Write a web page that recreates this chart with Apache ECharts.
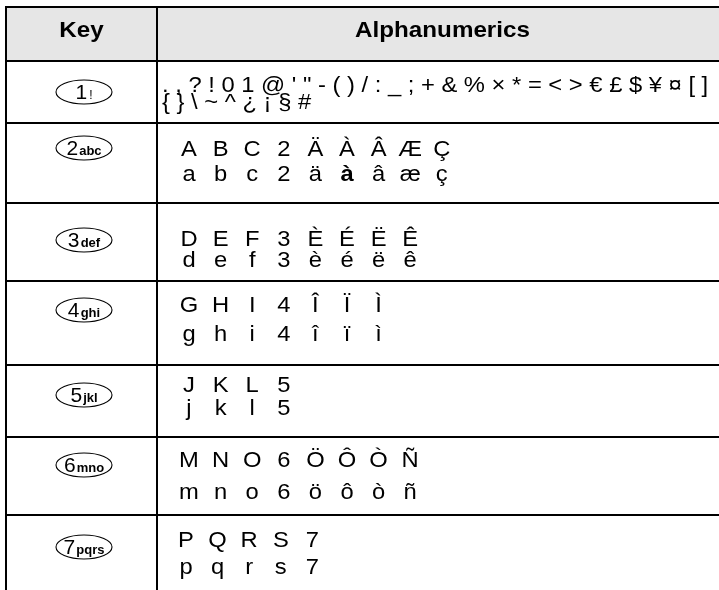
<!DOCTYPE html>
<html><head><meta charset="utf-8">
<script src="https://cdn.jsdelivr.net/npm/echarts@6/dist/echarts.min.js"></script>
<style>html,body{margin:0;padding:0;background:#fff}#c{width:719px;height:590px}</style>
</head><body><div id="c"></div>
<script>
// ---- data ----
const headers = ['Key', 'Alphanumerics'];
const keyDigits = ['1', '2', '3', '4', '5', '6', '7'];
const keyLetters = ['!', 'abc', 'def', 'ghi', 'jkl', 'mno', 'pqrs'];
const symbolLines = [
  ". , ? ! 0 1 @ ' \" - ( ) / : _ ; + & % × * = < > € £ $ ¥ ¤ [ ]",
  "{ } \\ ~ ^ ¿ ¡ § #"
];
const upperChars = [
  ['A','B','C','2','Ä','À','Â','Æ','Ç'],
  ['D','E','F','3','È','É','Ë','Ê'],
  ['G','H','I','4','Î','Ï','Ì'],
  ['J','K','L','5'],
  ['M','N','O','6','Ö','Ô','Ò','Ñ'],
  ['P','Q','R','S','7']
];
const lowerChars = [
  ['a','b','c','2','ä','à','â','æ','ç'],
  ['d','e','f','3','è','é','ë','ê'],
  ['g','h','i','4','î','ï','ì'],
  ['j','k','l','5'],
  ['m','n','o','6','ö','ô','ò','ñ'],
  ['p','q','r','s','7']
];
const boldChars = ['à'];

// ---- layout (page units, mapped through the axes) ----
const L = {
  left: 6, divider: 157, right: 728,
  rowTops: [7, 61, 123, 203, 281, 365, 437, 515, 610],
  keyCenterX: 84, textX1: 162,
  charX0: [0, 0, 189, 189, 189, 189, 189, 186],
  pitch: 31.6,
  ellipseY: [0, 92, 148, 240, 310, 395, 465, 547],
  base1: [38, 93, 157, 247, 313, 393, 468, 548],
  base2: [0, 110, 182, 268, 342, 416, 500, 575],
  ellW: 56, ellH: 24, lw: 2, fs: 22, sx: 1.08, hfs: 22, hsx: 1.1
};
const FONT = "'Liberation Sans', Arial, Helvetica, sans-serif";
const NARROW = "'Liberation Sans Narrow', 'Liberation Sans', Arial, sans-serif";

function txt(api, x, baseline, text, opts) {
  const p = api.coord([x, baseline]);
  const size = opts.size || L.fs;
  return {
    type: 'text', x: p[0], y: p[1] - 0.31 * size,
    scaleX: opts.sx == null ? L.sx : opts.sx,
    style: {
      x: 0, y: 0, text: text,
      font: (opts.weight || 'normal') + ' ' + size + 'px ' + FONT,
      fill: '#000', align: opts.align || 'left', textAlign: opts.align || 'left',
      verticalAlign: 'middle', textVerticalAlign: 'middle'
    }
  };
}

function renderItem(params, api) {
  const r = api.value(0);
  const top = L.rowTops[r], bottom = L.rowTops[r + 1];
  const a = api.coord([L.left, top]);
  const b = api.coord([L.right, bottom]);
  const d = api.coord([L.divider, top]);
  const children = [];
  if (r === 0) {
    children.push({ type: 'rect', shape: { x: a[0], y: a[1], width: b[0] - a[0], height: b[1] - a[1] }, style: { fill: '#e6e6e6' } });
  }
  const ls = { stroke: '#000', lineWidth: L.lw };
  children.push({ type: 'line', shape: { x1: a[0] - 1, y1: a[1], x2: b[0], y2: a[1] }, style: ls });
  children.push({ type: 'line', shape: { x1: a[0], y1: a[1], x2: a[0], y2: b[1] }, style: ls });
  children.push({ type: 'line', shape: { x1: d[0], y1: a[1], x2: d[0], y2: b[1] }, style: ls });

  if (r === 0) {
    children.push(txt(api, (L.left + L.divider) / 2, L.base1[0], headers[0], { weight: 'bold', align: 'center', size: L.hfs, sx: L.hsx }));
    children.push(txt(api, (L.divider + L.right) / 2, L.base1[0], headers[1], { weight: 'bold', align: 'center', size: L.hfs, sx: L.hsx }));
    return { type: 'group', children: children };
  }
  const k = r - 1;
  // key ellipse
  const c = api.coord([L.keyCenterX, L.ellipseY[r]]);
  children.push({ type: 'ellipse', shape: { cx: c[0], cy: c[1], rx: L.ellW / 2, ry: L.ellH / 2 }, style: { fill: '#fff', stroke: '#000', lineWidth: 1.1 } });
  const isBang = keyLetters[k] === '!';
  children.push({
    type: 'text', x: c[0], y: c[1] + 1,
    style: {
      x: 0, y: 0, align: 'center', verticalAlign: 'middle', textAlign: 'center', textVerticalAlign: 'middle',
      text: '{d|' + keyDigits[k] + '}' + (isBang ? '{g|  }' : '{g| }') + '{l|' + keyLetters[k] + '}',
      rich: {
        d: { font: 'normal 21px ' + NARROW, fill: '#000', verticalAlign: 'bottom', lineHeight: 22 },
        g: { font: 'normal 4px ' + NARROW, fill: '#000', lineHeight: 22 },
        l: { font: (isBang ? 'normal 12px ' : 'bold 13px ') + NARROW, fill: '#000', verticalAlign: 'bottom', lineHeight: 22, padding: [0, 0, 2, 0] }
      }
    }
  });
  if (k === 0) {
    children.push(txt(api, L.textX1, L.base1[r], symbolLines[0], {}));
    children.push(txt(api, L.textX1, L.base2[r], symbolLines[1], {}));
  } else {
    const up = upperChars[k - 1], lo = lowerChars[k - 1];
    up.forEach(function (ch, i) {
      children.push(txt(api, L.charX0[r] + i * L.pitch, L.base1[r], ch, { align: 'center', weight: boldChars.indexOf(ch) >= 0 ? 'bold' : 'normal' }));
    });
    lo.forEach(function (ch, i) {
      children.push(txt(api, L.charX0[r] + i * L.pitch, L.base2[r], ch, { align: 'center', weight: boldChars.indexOf(ch) >= 0 ? 'bold' : 'normal' }));
    });
  }
  return { type: 'group', children: children };
}

const rows = [0, 1, 2, 3, 4, 5, 6, 7];
const chart = echarts.init(document.getElementById('c'), null, { renderer: 'canvas' });
chart.setOption({
  animation: false,
  backgroundColor: '#fff',
  grid: { left: 0, right: 0, top: 0, bottom: 0 },
  xAxis: { type: 'value', min: 0, max: 719, show: false },
  yAxis: { type: 'value', min: 0, max: 590, inverse: true, show: false },
  series: [{
    type: 'custom', clip: false, silent: true,
    data: rows.map(function (i) { return [i, i]; }),
    encode: { x: 0, y: 1 },
    renderItem: renderItem
  }]
});
</script></body></html>
